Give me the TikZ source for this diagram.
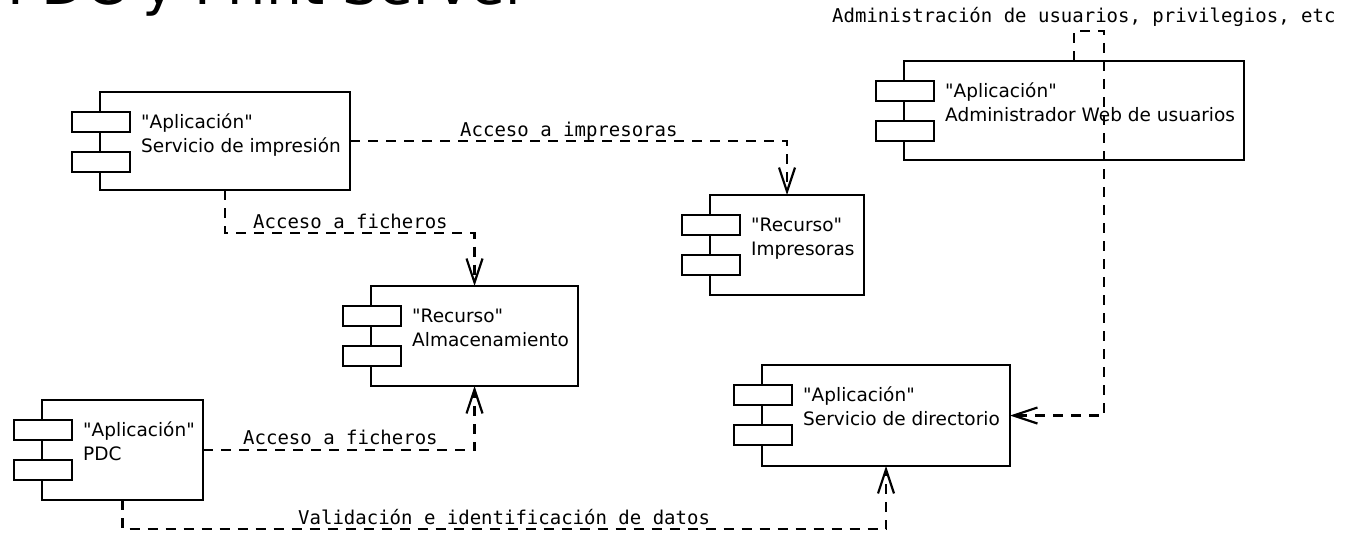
\documentclass[tikz,border=0pt]{standalone}
\usepackage{fontspec}
\setmainfont{DejaVu Sans}[Ligatures=TeXOff]
\newfontfamily\labelmono{DejaVu Sans Mono}[Ligatures=TeXOff]
\usetikzlibrary{arrows.meta}
\tikzset{
  box/.style={draw, line width=2.2pt, inner sep=0pt, outer sep=0pt},
  tab/.style={draw, fill=white, line width=2.2pt, inner sep=0pt, outer sep=0pt, minimum width=58pt, minimum height=20pt},
  txt/.style={inner sep=0pt, font=\fontsize{18.5}{22}\selectfont},
  lbl/.style={inner sep=0pt, font=\labelmono\fontsize{19}{22}\selectfont},
  dep/.style={line width=2.2pt, dash pattern=on 10pt off 8pt, -{Straight Barb[length=24pt,width=16pt,line width=2.2pt]}},
}
\newcommand\umlcomp[7]{% name, L, T, R, B, line1, line2
  \node[box, minimum width={#4-#2}, minimum height={#5-#3}] (#1) at ({(#2+#4)/2},{(#3+#5)/2}) {};
  \node[tab, anchor=north west] (#1-t1) at ({#2-28},{#3+20}) {};
  \node[tab, anchor=north west] (#1-t2) at ({#2-28},{#3+60}) {};
  \node[txt, anchor=base west] (#1-l1) at ({#2+41},{#3+36}) {#6};
  \node[txt, anchor=base west] (#1-l2) at ({#2+41},{#3+60}) {#7};
}
\begin{document}
\begin{tikzpicture}[x=1pt, y=-1pt]
\useasboundingbox (0,0) rectangle (1349,535);
% title (cut off by the page top)
\node[inner sep=0pt, anchor=base west, font=\fontsize{56.7}{60}\selectfont] (title) at (7,5) {PDC y Print Server};
% components
\umlcomp{si}{100}{92}{350}{190}{"Aplicación"}{Servicio de impresión}
\umlcomp{al}{371}{286}{578}{386}{"Recurso"}{Almacenamiento}
\umlcomp{im}{710}{195}{864}{295}{"Recurso"}{Impresoras}
\umlcomp{aw}{904}{61}{1244}{160}{"Aplicación"}{Administrador Web de usuarios}
\umlcomp{pdc}{42}{400}{203}{500}{"Aplicación"}{PDC}
\umlcomp{sd}{762}{365}{1010}{466}{"Aplicación"}{Servicio de directorio}
% connectors
\coordinate (b1) at (225,233);
\coordinate (d1) at (122.5,529);
\coordinate (e1) at (1074,31);
\coordinate (e2) at (1104,415.5);
\draw[dep] (si.east) -| (im.north);
\draw[dep] (si.south) -- (b1) -| (al.north);
\draw[dep] (pdc.east) -| (al.south);
\draw[dep] (pdc.south) -- (d1) -| (sd.south);
\draw[dep] (aw.north) -- (e1) -| (e2) -- (sd.east);
% labels
\node[lbl, anchor=base west] (la) at (460,136) {Acceso a impresoras};
\node[lbl, anchor=base west] (lb) at (253,228) {Acceso a ficheros};
\node[lbl, anchor=base west] (lc) at (243,444) {Acceso a ficheros};
\node[lbl, anchor=base west] (ld) at (298,524) {Validación e identificación de datos};
\node[lbl, anchor=base west] (le) at (832,23) {Administración de usuarios, privilegios, etc};
\end{tikzpicture}
\end{document}
